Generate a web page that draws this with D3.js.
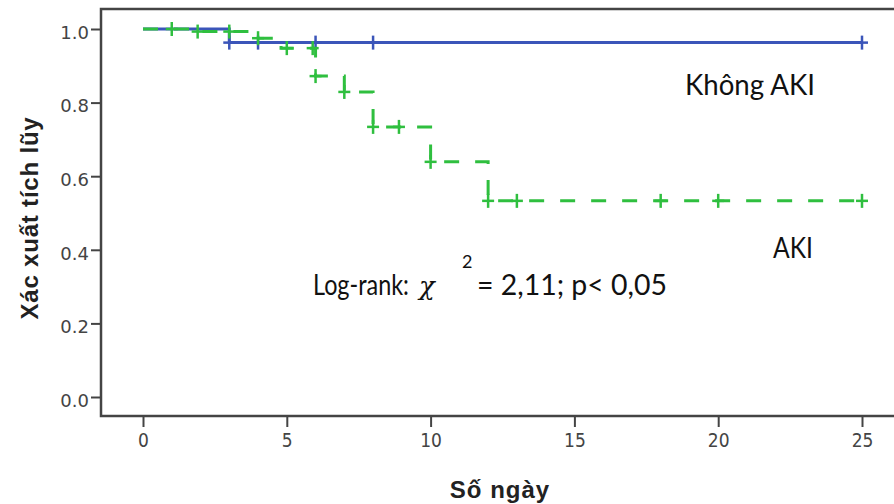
<!DOCTYPE html>
<html><head><meta charset="utf-8">
<script src="https://cdn.jsdelivr.net/npm/d3@7"></script>
<style>body{margin:0;background:#fff} svg{display:block}</style>
</head><body><svg id="c" width="894" height="504"></svg>
<script>
// ---- data ----
const xTicks = [0, 5, 10, 15, 20, 25];
const yTicks = [0.0, 0.2, 0.4, 0.6, 0.8, 1.0];
const noAkiSteps = [[0, 1.0], [3, 0.963]];
const noAkiEnd = 25;
const noAkiCensor = [3, 4, 6, 8, 25];
const akiSteps = [[0, 1.0], [1.8, 0.993], [3.8, 0.975], [4.8, 0.948], [6, 0.872], [7, 0.829], [8, 0.734], [10, 0.639], [12, 0.533]];
const akiEnd = 25;
const akiCensor = [1, 1.9, 3, 4, 5, 5.9, 6, 7, 8, 8.9, 10, 12, 13, 18, 20, 25];
const labelNoAki = "Không AKI";
const labelAki = "AKI";
const xTitle = "Số ngày";
const yTitle = "Xác xuất tích lũy";

// ---- layout ----
const svg = d3.select("#c");
const frame = {left: 101, top: 9, bottom: 416, right: 900};
const x = d3.scaleLinear().domain([0, 25]).range([143, 862]);
const y = d3.scaleLinear().domain([0, 1]).range([397, 29]);
const blue = "#3b55b9", green = "#2fbf3f";

// frame
svg.append("rect").attr("x", frame.left).attr("y", frame.top)
  .attr("width", frame.right - frame.left).attr("height", frame.bottom - frame.top)
  .attr("fill", "none").attr("stroke", "#444").attr("stroke-width", 2.5);

// y axis ticks
const yAxis = d3.axisLeft(y).tickValues(yTicks).tickFormat(d3.format(".1f")).tickSize(10).tickPadding(2);
const gy = svg.append("g").attr("transform", `translate(${frame.left},0)`).call(yAxis);
gy.select(".domain").remove();
gy.selectAll(".tick line").attr("stroke", "#444").attr("stroke-width", 2);
gy.selectAll(".tick text").attr("font-family", "DejaVu Sans").attr("font-size", 18)
  .attr("fill", "#444").attr("dy", "0.52em");

// x axis ticks
const xAxis = d3.axisBottom(x).tickValues(xTicks).tickFormat(d3.format("d")).tickSize(11).tickPadding(7);
const gx = svg.append("g").attr("transform", `translate(0,${frame.bottom})`).call(xAxis);
gx.select(".domain").remove();
gx.selectAll(".tick line").attr("stroke", "#444").attr("stroke-width", 2);
gx.selectAll(".tick text").attr("font-family", "DejaVu Sans Condensed, DejaVu Sans").attr("font-stretch", "condensed")
  .attr("font-size", 19).attr("fill", "#444");

// axis titles
svg.append("text").attr("x", 500).attr("y", 498).attr("text-anchor", "middle")
  .attr("font-family", "Liberation Sans, Arial").attr("font-weight", "bold").attr("font-size", 24)
  .attr("letter-spacing", 1).attr("fill", "#222").text(xTitle);
svg.append("text").attr("transform", "translate(38,218) rotate(-90)").attr("text-anchor", "middle")
  .attr("font-family", "Liberation Sans, Arial").attr("font-weight", "bold").attr("font-size", 24)
  .attr("letter-spacing", 0.8).attr("fill", "#222").text(yTitle);

// step curves
function stepPts(steps, end) { return steps.concat([[end, steps[steps.length - 1][1]]]); }
function survAt(steps, t) { let v = steps[0][1]; for (const s of steps) if (s[0] <= t) v = s[1]; return v; }
const line = d3.line().x(d => x(d[0])).y(d => y(d[1])).curve(d3.curveStepAfter);

function drawCurve(steps, end, censor, color, dash) {
  const g = svg.append("g");
  const p = g.append("path").datum(stepPts(steps, end)).attr("d", line)
    .attr("fill", "none").attr("stroke", color).attr("stroke-width", 3);
  if (dash) p.attr("stroke-dasharray", dash);
  const c = g.selectAll("g.c").data(censor).join("g")
    .attr("transform", t => `translate(${x(t)},${y(survAt(steps, t))})`);
  c.append("line").attr("x1", 0).attr("x2", 0).attr("y1", -7).attr("y2", 7)
    .attr("stroke", color).attr("stroke-width", 2.5);
  c.append("line").attr("x1", -6).attr("x2", 6).attr("y1", 0).attr("y2", 0)
    .attr("stroke", color).attr("stroke-width", 2.5);
}
drawCurve(noAkiSteps, noAkiEnd, noAkiCensor, blue, null);
drawCurve(akiSteps, akiEnd, akiCensor, green, "15,16");

// annotations (horizontally fitted to a target width with a scale transform)
const annFont = "Lato, Open Sans, sans-serif";
function fitText(txt, px, py, size, width, extra) {
  const t = svg.append("text").attr("font-family", annFont).attr("font-size", size)
    .attr("fill", "#111").text(txt);
  if (extra) extra(t);
  const w = t.node().getComputedTextLength();
  const sx = width ? width / w : 1;
  t.attr("transform", `translate(${px},${py}) scale(${sx},1)`);
  return t;
}
fitText(labelNoAki, 685, 95, 28, 130);
fitText(labelAki, 773, 258, 28, 40);
fitText("Log-rank:", 313, 295, 28, 96);
svg.append("text").attr("x", 419).attr("y", 295).attr("font-family", "DejaVu Serif").attr("font-style", "italic")
  .attr("font-size", 26).attr("fill", "#111").text("χ");
fitText("2", 462, 268, 18, null);
fitText("= 2,11; p< 0,05", 477, 295, 28, 190);
</script></body></html>
